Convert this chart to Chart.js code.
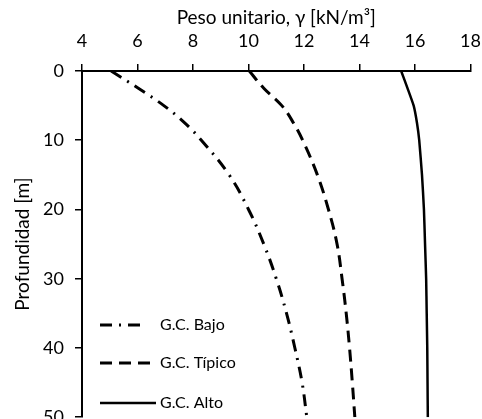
<!DOCTYPE html>
<html>
<head>
<meta charset="utf-8">
<script src="https://cdn.jsdelivr.net/npm/chart.js@4"></script>
<style>
  html, body { margin: 0; padding: 0; background: #fff; }
  #wrap { width: 482px; height: 419px; overflow: hidden; }
</style>
</head>
<body>
<div id="wrap"><canvas id="myChart" width="493" height="439"></canvas></div>
<script>
// depth [m] shared by the three curves
const depths = [0, 2.5, 5, 7.5, 10, 15, 20, 25, 30, 35, 40, 45, 50];
// unit weight [kN/m3]
const bajo   = [5.05, 6.03, 6.95, 7.7, 8.3, 9.3, 10.0, 10.55, 11.0, 11.37, 11.67, 11.93, 12.1];
const tipico = [10.03, 10.55, 11.2, 11.62, 11.95, 12.48, 12.88, 13.19, 13.37, 13.52, 13.64, 13.74, 13.83];
const alto   = [15.5, 15.73, 15.95, 16.07, 16.15, 16.25, 16.32, 16.36, 16.4, 16.42, 16.44, 16.45, 16.46];
const seriesNames = ["G.C. Bajo", "G.C. Típico", "G.C. Alto"];
const xTicks = [4, 6, 8, 10, 12, 14, 16, 18];
const yTicks = [0, 10, 20, 30, 40, 50];

const FONT = "Lato";

function toPoints(xs) {
  return xs.map((x, i) => ({x: x, y: depths[i]}));
}

// legend drawn inside the plot, bottom-left
const insideLegend = {
  id: 'insideLegend',
  afterDatasetsDraw(chart) {
    const ctx = chart.ctx;
    const area = chart.chartArea;
    const rows = [area.top + 254, area.top + 292, area.top + 332];
    chart.data.datasets.forEach((ds, i) => {
      const y = rows[i];
      ctx.save();
      ctx.strokeStyle = ds.borderColor;
      ctx.lineWidth = ds.borderWidth;
      ctx.setLineDash(ds.borderDash || []);
      ctx.beginPath();
      ctx.moveTo(area.left + 18, y);
      ctx.lineTo(area.left + (i == 0 ? 58 : 74), y);
      ctx.stroke();
      ctx.setLineDash([]);
      ctx.fillStyle = '#000';
      ctx.font = '16px ' + FONT;
      ctx.textBaseline = 'middle';
      ctx.fillText(ds.label, area.left + 78, y);
      ctx.restore();
    });
  }
};

const ctx = document.getElementById('myChart').getContext('2d');
new Chart(ctx, {
  type: 'scatter',
  data: {
    datasets: [
      {
        label: seriesNames[0],
        data: toPoints(bajo),
        borderColor: '#000',
        borderWidth: 3,
        borderDash: [12, 7, 2, 7],
        showLine: true,
        pointRadius: 0,
        tension: 0.4
      },
      {
        label: seriesNames[1],
        data: toPoints(tipico),
        borderColor: '#000',
        borderWidth: 3,
        borderDash: [12, 7],
        showLine: true,
        pointRadius: 0,
        tension: 0.4
      },
      {
        label: seriesNames[2],
        data: toPoints(alto),
        borderColor: '#000',
        borderWidth: 2.5,
        showLine: true,
        pointRadius: 0,
        tension: 0.15
      }
    ]
  },
  options: {
    responsive: false,
    animation: false,
    layout: { padding: { left: 0, right: 2, top: 0, bottom: 5 } },
    plugins: {
      legend: { display: false },
      tooltip: { enabled: false }
    },
    scales: {
      x: {
        type: 'linear',
        position: 'top',
        min: 4,
        max: 18,
        afterBuildTicks: (s) => { s.ticks = xTicks.map(v => ({value: v})); },
        afterFit: (s) => { s.height = 71; },
        ticks: { color: '#000', font: { family: FONT, size: 18 }, padding: 12 },
        grid: { drawOnChartArea: false, drawTicks: true, tickLength: 7, color: '#000', lineWidth: 1.5 },
        border: { display: true, color: '#000', width: 2 },
        title: {
          display: true,
          text: 'Peso unitario, γ [kN/m³]',
          color: '#000',
          font: { family: FONT, size: 19 },
          padding: { top: 6, bottom: 2 }
        }
      },
      y: {
        type: 'linear',
        reverse: true,
        min: 0,
        max: 50,
        afterBuildTicks: (s) => { s.ticks = yTicks.map(v => ({value: v})); },
        afterFit: (s) => { s.width = 82; },
        ticks: { color: '#000', font: { family: FONT, size: 18 }, padding: 11 },
        grid: { drawOnChartArea: false, drawTicks: true, tickLength: 7, color: '#000', lineWidth: 1.5 },
        border: { display: true, color: '#000', width: 2 },
        title: {
          display: true,
          text: 'Profundidad [m]',
          color: '#000',
          font: { family: FONT, size: 19 },
          padding: { top: 11, bottom: 0 }
        }
      }
    }
  },
  plugins: [insideLegend]
});
</script>
</body>
</html>
